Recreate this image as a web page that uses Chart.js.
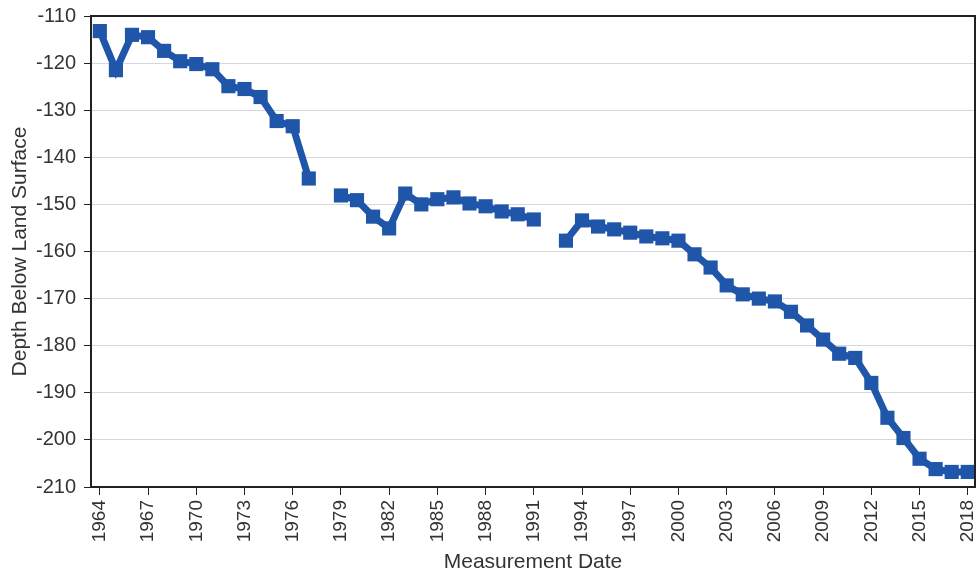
<!DOCTYPE html>
<html>
<head>
<meta charset="utf-8">
<script src="https://cdn.jsdelivr.net/npm/chart.js@4"></script>
<style>
  html, body { margin: 0; padding: 0; background: #fff; }
  #wrap { width: 979px; height: 578px; }
</style>
</head>
<body>
<div id="wrap"><canvas id="depthChart" width="979" height="578"></canvas></div>
<script>
// measurement years and depth readings (null = no measurement that year)
var years = [1964, 1965, 1966, 1967, 1968, 1969, 1970, 1971, 1972, 1973, 1974, 1975, 1976, 1977, 1978,
    1979, 1980, 1981, 1982, 1983, 1984, 1985, 1986, 1987, 1988, 1989, 1990, 1991, 1992,
    1993, 1994, 1995, 1996, 1997, 1998, 1999, 2000, 2001, 2002, 2003, 2004, 2005, 2006,
    2007, 2008, 2009, 2010, 2011, 2012, 2013, 2014, 2015, 2016, 2017, 2018];
var depths = [-113.2, -121.5, -114, -114.5, -117.4, -119.6, -120.2, -121.3, -124.9, -125.5, -127.2, -132.3, -133.4, -144.5, null,
    -148.1, -149.1, -152.6, -155.1, -147.7, -150, -148.9, -148.5, -149.8, -150.4, -151.5, -152.1, -153.2, null,
    -157.7, -153.4, -154.7, -155.3, -156, -156.8, -157.2, -157.7, -160.6, -163.4, -167.2, -169.1, -170, -170.6,
    -172.8, -175.7, -178.7, -181.7, -182.6, -187.9, -195.3, -199.6, -204, -206.2, -206.8, -206.8];
var tickYears = [1964, 1967, 1970, 1973, 1976, 1979, 1982, 1985, 1988, 1991, 1994, 1997, 2000, 2003, 2006, 2009, 2012, 2015, 2018];

var lineBlue = '#1f56a9';

// draws the black frame around the plot area
var frameBox = {
    id: 'frameBox',
    afterDraw: function (chart) {
        var a = chart.chartArea;
        var ctx = chart.ctx;
        ctx.save();
        ctx.strokeStyle = '#222';
        ctx.lineWidth = 2;
        ctx.strokeRect(a.left, a.top, a.right - a.left, a.bottom - a.top);
        ctx.restore();
    }
};

function createDepthChart() {
    var points = years.map(function (yr, i) {
        return { x: yr, y: depths[i] };
    });
    var ctx = document.getElementById('depthChart').getContext('2d');
    window.depthChart = new Chart(ctx, {
        type: 'line',
        data: {
            datasets: [{
                label: 'Depth',
                data: points,
                borderColor: lineBlue,
                backgroundColor: lineBlue,
                borderWidth: 7,
                pointStyle: 'rect',
                pointRadius: 10,
                pointBorderWidth: 0,
                spanGaps: false,
                tension: 0
            }]
        },
        plugins: [frameBox],
        options: {
            responsive: false,
            animation: false,
            layout: { autoPadding: false, padding: { left: 0, right: 4, top: 16, bottom: 0 } },
            plugins: {
                legend: { display: false },
                tooltip: { enabled: false }
            },
            scales: {
                x: {
                    type: 'linear',
                    min: 1963.45,
                    max: 2018.45,
                    afterBuildTicks: function (scale) {
                        scale.ticks = tickYears.map(function (v) { return { value: v }; });
                    },
                    afterFit: function (scale) {
                        scale.height = 91;
                        scale.paddingLeft = 0;
                        scale.paddingRight = 0;
                    },
                    grid: {
                        drawOnChartArea: false,
                        tickLength: 8,
                        tickColor: '#222'
                    },
                    border: { color: '#222', width: 2 },
                    ticks: {
                        minRotation: 90,
                        maxRotation: 90,
                        autoSkip: false,
                        padding: 5,
                        color: '#333',
                        font: { family: 'Liberation Sans', size: 19 },
                        callback: function (v) { return String(v); }
                    },
                    title: {
                        display: true,
                        text: 'Measurement Date',
                        color: '#333',
                        padding: { top: 2, bottom: 3 },
                        font: { family: 'Liberation Sans', size: 21 }
                    }
                },
                y: {
                    min: -210,
                    max: -110,
                    afterFit: function (scale) {
                        scale.width = 91;
                        scale.paddingTop = 0;
                        scale.paddingBottom = 0;
                    },
                    grid: {
                        color: '#d4d7de',
                        lineWidth: 1,
                        tickLength: 7,
                        tickColor: '#222'
                    },
                    border: { color: '#222', width: 2 },
                    ticks: {
                        stepSize: 10,
                        padding: 8,
                        color: '#333',
                        font: { family: 'Liberation Sans', size: 20 }
                    },
                    title: {
                        display: true,
                        text: 'Depth Below Land Surface',
                        color: '#333',
                        padding: { top: 8, bottom: 2 },
                        font: { family: 'Liberation Sans', size: 21 }
                    }
                }
            }
        }
    });
}

createDepthChart();
</script>
</body>
</html>
